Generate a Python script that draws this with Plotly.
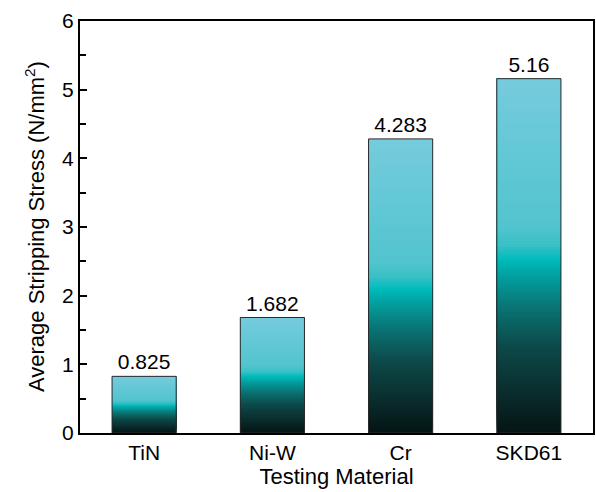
import numpy as np
import plotly.graph_objects as go

categories = ["TiN", "Ni-W", "Cr", "SKD61"]
values = [0.825, 1.682, 4.283, 5.16]
value_labels = ["0.825", "1.682", "4.283", "5.16"]
y_ticks = [0, 1, 2, 3, 4, 5, 6]

# vertical gradient (fraction of bar height -> colour)
grad_stops = [
    (0.00, (4, 20, 20)),
    (0.12, (11, 46, 46)),
    (0.24, (13, 72, 72)),
    (0.35, (10, 114, 114)),
    (0.44, (3, 158, 158)),
    (0.49, (0, 188, 188)),
    (0.53, (56, 192, 198)),
    (0.58, (82, 196, 205)),
    (0.80, (100, 200, 214)),
    (1.00, (118, 203, 220)),
]


def grad_color(f):
    fs = [s[0] for s in grad_stops]
    rgb = [int(round(np.interp(f, fs, [s[1][k] for s in grad_stops]))) for k in range(3)]
    return "rgb({},{},{})".format(*rgb)


N = 120
seg_x, seg_base, seg_h, seg_c = [], [], [], []
for i in range(N):
    f = i / N
    col = grad_color(f + 0.5 / N)
    for c, v in zip(categories, values):
        seg_x.append(c)
        seg_base.append(v * f)
        seg_h.append(v * (1 - f))
        seg_c.append(col)

FONT = "Liberation Sans, Arial, sans-serif"
W, H = 596, 492
ML, MR, MT, MB = 80, 3, 21, 59

fig = go.Figure()
fig.add_trace(go.Bar(
    x=seg_x, y=seg_h, base=seg_base, width=0.5,
    marker=dict(color=seg_c, line=dict(width=0)),
    hoverinfo="skip", showlegend=False,
))
fig.add_trace(go.Bar(
    x=categories, y=values, width=0.5,
    marker=dict(color="rgba(0,0,0,0)", line=dict(color="#2a2a2a", width=1)),
    text=value_labels, textposition="outside", constraintext="none",
    textfont=dict(size=21, color="black", family=FONT),
    cliponaxis=False, showlegend=False,
))

fig.update_layout(
    width=W, height=H, autosize=False,
    margin=dict(l=ML, r=MR, t=MT, b=MB, autoexpand=False),
    barmode="overlay",
    plot_bgcolor="white", paper_bgcolor="white",
    font=dict(family=FONT, size=21, color="black"),
    xaxis=dict(
        type="category", range=[-0.5, 3.5], automargin=False,
        showline=True, mirror=True, linecolor="black", linewidth=2,
        ticks="", showgrid=False, zeroline=False,
        tickfont=dict(size=21),
        title=dict(text="Testing Material", font=dict(size=22), standoff=0),
    ),
    yaxis=dict(
        range=[0, 6], tickvals=y_ticks, ticktext=[str(t) for t in y_ticks],
        automargin=False,
        showline=True, mirror=True, linecolor="black", linewidth=2,
        ticks="inside", ticklen=7, tickwidth=1.5, tickcolor="black",
        minor=dict(dtick=0.5, ticks="inside", ticklen=6, tickwidth=1.5, tickcolor="black"),
        showgrid=False, zeroline=False,
        tickfont=dict(size=21),
    ),
    annotations=[dict(
        text="Average Stripping Stress (N/mm<sup>2</sup>)",
        xref="paper", yref="paper",
        x=-(ML - 35) / (W - ML - MR), y=0.5,
        xanchor="center", yanchor="middle",
        textangle=-90, showarrow=False,
        font=dict(size=22, color="black", family=FONT),
    )],
)

fig.write_html(
    "out.html",
    config={"responsive": False, "displayModeBar": False},
    default_width="596px", default_height="492px",
    post_script=(
        "document.documentElement.style.overflow='hidden';"
        "document.documentElement.style.margin='0';"
        "document.body.style.margin='0';"
        "document.body.style.overflow='hidden';"
        "var gd=document.getElementById('{plot_id}');"
        "Plotly.relayout(gd,{width:596,height:492});"
    ),
)
